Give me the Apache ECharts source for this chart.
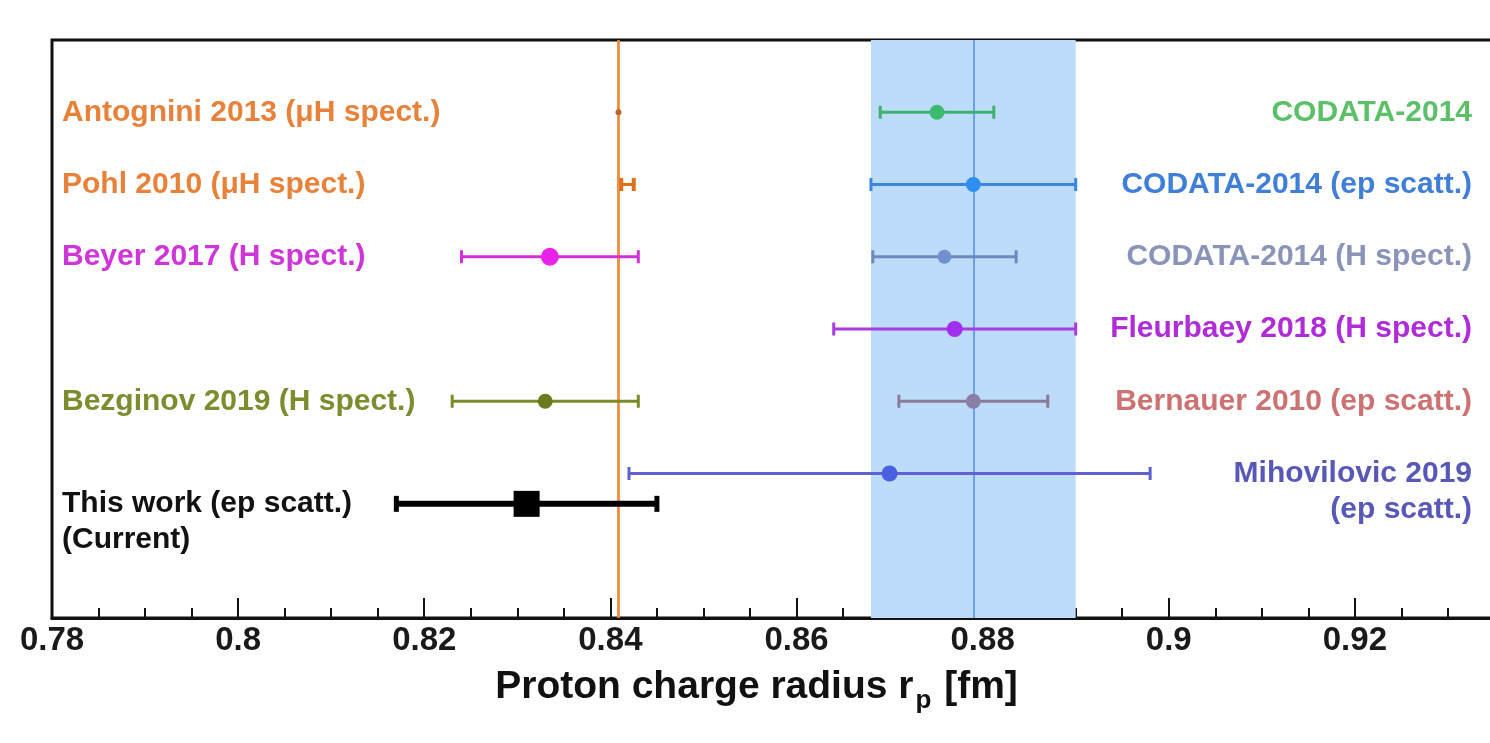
<!DOCTYPE html>
<html>
<head>
<meta charset="utf-8">
<script src="https://cdn.jsdelivr.net/npm/echarts@6/dist/echarts.min.js"></script>
<style>
  html, body { margin: 0; padding: 0; background: #fff; }
  #chart { width: 1490px; height: 743px; }
</style>
</head>
<body>
<div id="chart"></div>
<script>
// measurements (fm)
const names = [
  'Antognini 2013 (μH spect.)',
  'Pohl 2010 (μH spect.)',
  'Beyer 2017 (H spect.)',
  'Bezginov 2019 (H spect.)',
  'This work (ep scatt.)\n(Current)',
  'CODATA-2014',
  'CODATA-2014 (ep scatt.)',
  'CODATA-2014 (H spect.)',
  'Fleurbaey 2018 (H spect.)',
  'Bernauer 2010 (ep scatt.)',
  'Mihovilovic 2019\n(ep scatt.)'
];
const radius = [0.84087, 0.84184, 0.8335, 0.833, 0.831, 0.8751, 0.879, 0.8759, 0.877, 0.879, 0.870];
const errors = [0.00039, 0.00067, 0.0095, 0.010, 0.014, 0.0061, 0.011, 0.0077, 0.013, 0.008, 0.028];
const rows = [1, 2, 3, 5, 6.42, 1, 2, 3, 4, 5, 6];

// reference lines / band
const muonicLine = 0.84087;
const epBand = [0.868, 0.890];
const epCenter = 0.879;

// styles
const side = ['left', 'left', 'left', 'left', 'left', 'right', 'right', 'right', 'right', 'right', 'right'];
const markColor = ['#b8662a', '#e0701c', '#e822e8', '#6b7a1c', '#000000', '#3cba70', '#2e8ff0', '#7090d0', '#a030f0', '#8b7fa8', '#4a60e0'];
const barColor = ['#e07a30', '#e0701c', '#d030d8', '#7a8a2a', '#000000', '#40b070', '#3a86e0', '#6f88c0', '#a83ce0', '#8a7a9a', '#6060d0'];
const textColor = ['#e8823a', '#e8823a', '#cf35d8', '#7d8c2e', '#111111', '#5cc068', '#3f7fd8', '#8a94b8', '#b02cd8', '#cc7272', '#5858b8'];
const markSize = [6, 0, 18, 15, 26, 15, 15, 14, 16, 15, 16];

const FONT = '"Liberation Sans", Arial, Helvetica, sans-serif';

const chart = echarts.init(document.getElementById('chart'));

const seriesData = radius.map((r, i) => [r, r - errors[i], r + errors[i], rows[i]]);

const renderItem = (params, api) => {
  const i = params.dataIndex;
  const y = api.value(3);
  const c = api.coord([api.value(0), y]);
  const lo = api.coord([api.value(1), y]);
  const hi = api.coord([api.value(2), y]);
  const thick = i === 4;
  const lw = thick ? 6 : 3;
  const capH = thick ? 16 : 13;
  const capW = thick ? 5 : (i === 1 ? 4 : 3);
  const children = [];
  if (i !== 0) {
    children.push({
      type: 'line',
      shape: { x1: lo[0], y1: lo[1], x2: hi[0], y2: hi[1] },
      style: { stroke: barColor[i], lineWidth: lw }
    });
    [lo, hi].forEach(p => {
      children.push({
        type: 'line',
        shape: { x1: p[0], y1: p[1] - capH / 2, x2: p[0], y2: p[1] + capH / 2 },
        style: { stroke: barColor[i], lineWidth: capW }
      });
    });
  }
  const s = markSize[i];
  if (s > 0) {
    if (thick) {
      children.push({
        type: 'rect',
        shape: { x: c[0] - s / 2, y: c[1] - s / 2, width: s, height: s },
        style: { fill: markColor[i] }
      });
    } else {
      children.push({
        type: 'circle',
        shape: { cx: c[0], cy: c[1], r: s / 2 },
        style: { fill: markColor[i] }
      });
    }
  }
  const left = side[i] === 'left';
  const tx = left ? api.coord([0.78, y])[0] + 10 : api.getWidth() - 18;
  children.push({
    type: 'text',
    x: tx,
    y: c[1] - 18,
    style: {
      text: names[i],
      fill: textColor[i],
      font: 'bold 30px ' + FONT,
      align: left ? 'left' : 'right',
      verticalAlign: 'top',
      lineHeight: 36
    }
  });
  return { type: 'group', children };
};

const option = {
  animation: false,
  backgroundColor: '#ffffff',
  grid: {
    left: 52, top: 40, width: 1489, height: 578,
    outerBoundsMode: 'none',
    containLabel: false,
    show: true, borderColor: '#111', borderWidth: 3, backgroundColor: 'transparent'
  },
  xAxis: {
    type: 'value',
    min: 0.78,
    max: 0.94,
    interval: 0.02,
    name: '{m|Proton charge radius r}{s|p}{m| [fm]}',
    nameLocation: 'middle',
    nameGap: 50,
    nameTextStyle: {
      padding: [0, 80, 0, 0],
      rich: {
        m: { fontSize: 39, fontWeight: 'bold', color: '#111', fontFamily: FONT, verticalAlign: 'top', lineHeight: 46 },
        s: { fontSize: 26, fontWeight: 'bold', color: '#111', fontFamily: FONT, verticalAlign: 'bottom', lineHeight: 26, padding: [26, 2, 0, 2] }
      }
    },
    axisLine: { onZero: false, lineStyle: { color: '#111', width: 3 } },
    axisTick: { inside: true, length: 20, lineStyle: { color: '#111', width: 2 } },
    minorTick: { show: true, splitNumber: 4, length: 10, lineStyle: { color: '#111', width: 2 } },
    splitLine: { show: false },
    minorSplitLine: { show: false },
    axisLabel: {
      showMaxLabel: false,
      fontSize: 33, fontWeight: 'bold', color: '#1a1a1a', fontFamily: FONT, margin: 6
    }
  },
  yAxis: { type: 'value', min: 0, max: 8, inverse: true, show: false },
  series: [
    {
      type: 'scatter',
      data: [],
      z: 1,
      markArea: {
        silent: true,
        itemStyle: { color: '#bddcf9' },
        data: [[{ xAxis: epBand[0] }, { xAxis: epBand[1] }]]
      },
      markLine: {
        silent: true,
        z: 1,
        precision: 6,
        symbol: ['none', 'none'],
        label: { show: false },
        lineStyle: { color: '#4a8fe0', width: 1.5, type: 'solid' },
        data: [{ xAxis: epCenter }]
      }
    },
    {
      type: 'scatter',
      data: [],
      z: 2,
      markLine: {
        silent: true,
        z: 2,
        precision: 6,
        symbol: ['none', 'none'],
        label: { show: false },
        lineStyle: { color: '#ef8636', width: 3, type: 'solid', opacity: 0.9 },
        data: [{ xAxis: muonicLine }]
      }
    },
    {
      type: 'custom',
      renderItem: renderItem,
      data: seriesData,
      z: 6,
      clip: false
    }
  ]
};

chart.setOption(option);
</script>
</body>
</html>
